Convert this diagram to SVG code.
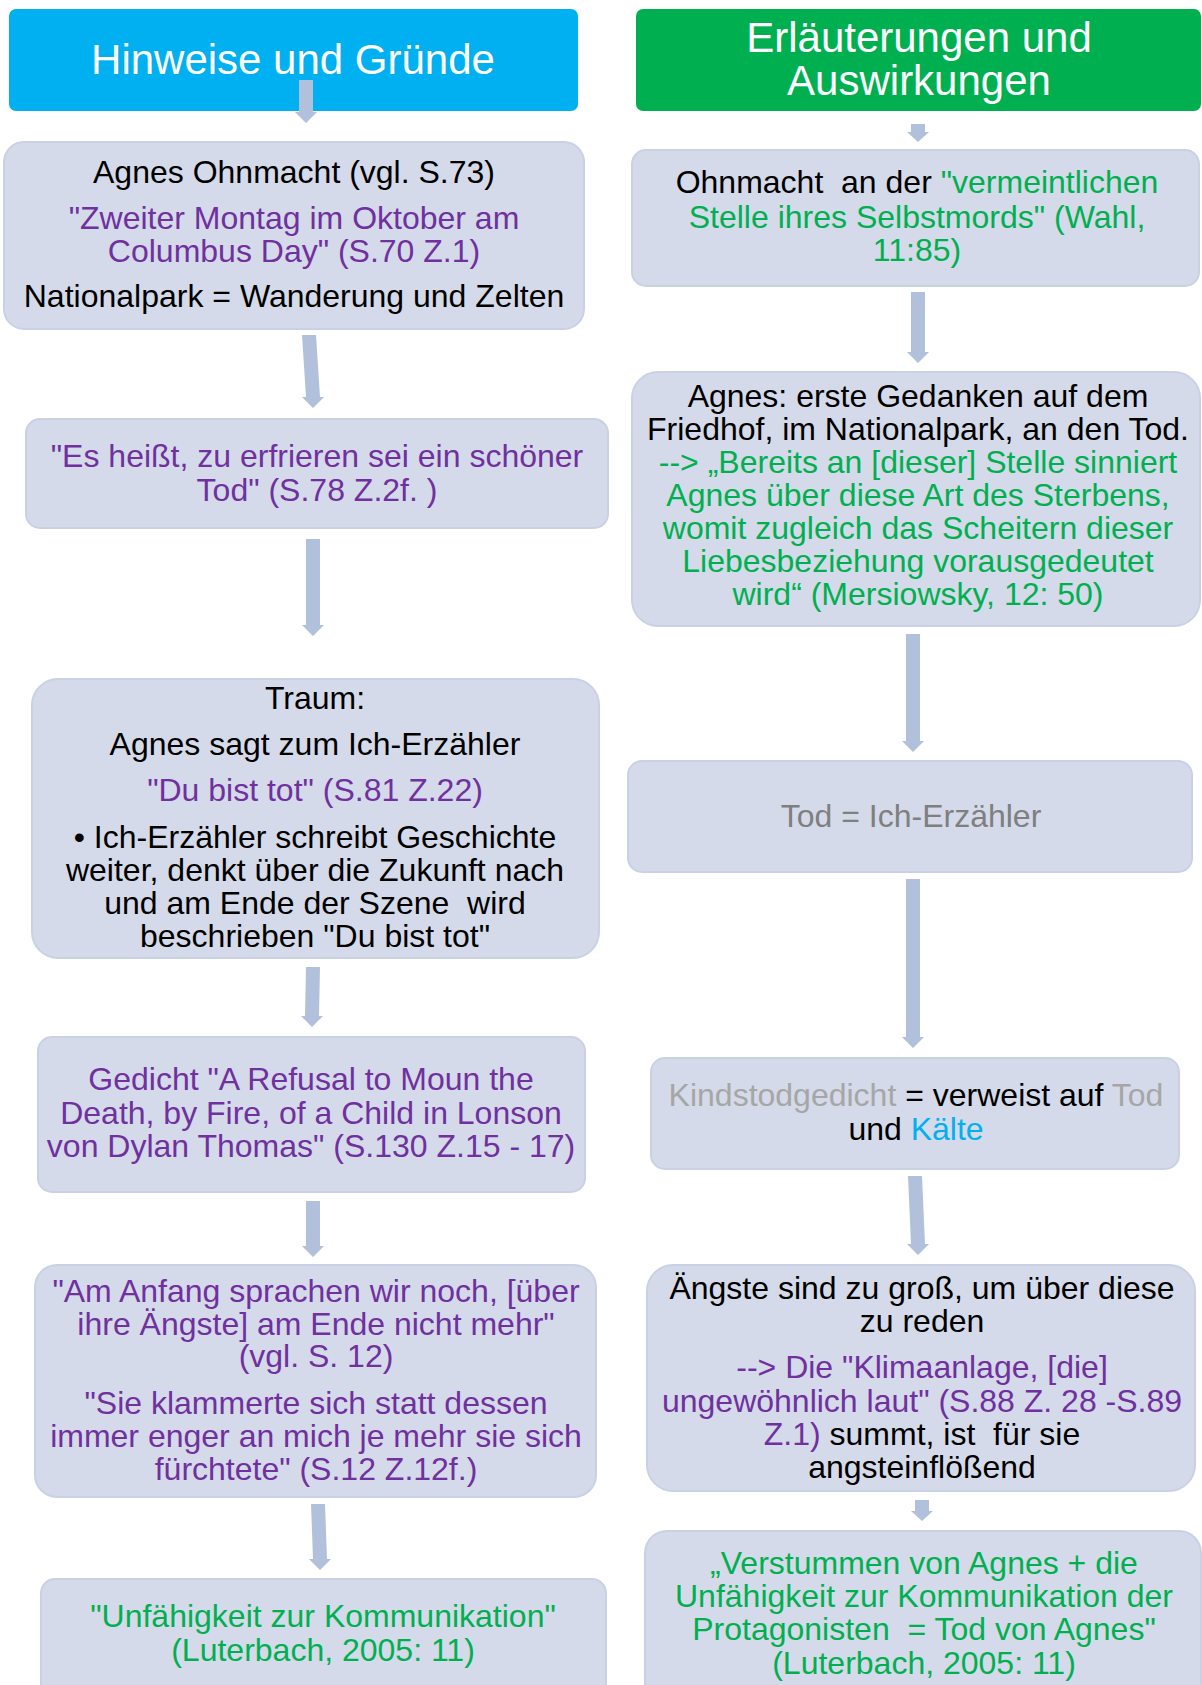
<svg xmlns="http://www.w3.org/2000/svg" width="1202" height="1685" viewBox="0 0 1202 1685">
<style>
text { font-family: "Liberation Sans", Arial, sans-serif; white-space: pre; text-anchor: middle; }
.hd { font-size: 42px; fill: #FFFFFF; }
.t { font-size: 32px; fill: #000000; }
.node { fill: #D4DAE9; stroke: #CAD1E4; stroke-width: 2; }
.arr { fill: #B2C1DB; }
.pu { fill: #7030A0; }
.gr { fill: #00B050; }
.g1 { fill: #7F7F7F; }
.g2 { fill: #A6A6A6; }
.bl { fill: #00B0F0; }
.k { fill: #000000; }
</style>
<rect width="1202" height="1685" fill="#FFFFFF"/>

<g id="header-left">
<rect x="9" y="9" width="569" height="102" rx="7" fill="#00B0F0"/>
<text class="hd" x="293" y="74">Hinweise und Gründe</text>
</g>
<g id="header-right">
<rect x="636" y="9" width="565" height="102" rx="7" fill="#00B050"/>
<text class="hd" x="919" y="52">Erläuterungen und</text>
<text class="hd" x="919" y="95">Auswirkungen</text>
</g>

<g id="connectors">
<polygon class="arr" points="299,80 313,80 313,112 317,112 306,123 295,112 299,112"/>
<polygon class="arr" points="302,335 316,335 320,397 324,397 313,408 302,397 306,397"/>
<polygon class="arr" points="306,539 320,539 320,625 324,625 313,636 302,625 306,625"/>
<polygon class="arr" points="306,967 320,967 319,1016 323,1016 312,1027 301,1016 305,1016"/>
<polygon class="arr" points="306,1201 320,1201 320,1246 324,1246 313,1257 302,1246 306,1246"/>
<polygon class="arr" points="311,1504 325,1504 327,1559 331,1559 320,1570 309,1559 313,1559"/>
<polygon class="arr" points="911,124 925,124 925,132 929,132 918,142 907,132 911,132"/>
<polygon class="arr" points="911,292 925,292 925,352 929,352 918,363 907,352 911,352"/>
<polygon class="arr" points="906,634 920,634 920,741 924,741 913,752 902,741 906,741"/>
<polygon class="arr" points="906,879 920,879 920,1037 924,1037 913,1048 902,1037 906,1037"/>
<polygon class="arr" points="908,1176 922,1176 925,1244 929,1244 918,1255 907,1244 911,1244"/>
<polygon class="arr" points="915,1500 929,1500 929,1511 933,1511 922,1521 911,1511 915,1511"/>
</g>

<g id="node-l1">
<rect class="node" x="4" y="142" width="580" height="187" rx="20"/>
<text class="t" x="294" y="183">Agnes Ohnmacht (vgl. S.73)</text>
<text class="t pu" x="294" y="229">"Zweiter Montag im Oktober am</text>
<text class="t pu" x="294" y="262">Columbus Day" (S.70 Z.1)</text>
<text class="t" x="294" y="307">Nationalpark = Wanderung und Zelten</text>
</g>
<g id="node-l2">
<rect class="node" x="26" y="419" width="582" height="109" rx="14"/>
<text class="t pu" x="317" y="467">"Es heißt, zu erfrieren sei ein schöner</text>
<text class="t pu" x="317" y="501">Tod" (S.78 Z.2f. )</text>
</g>
<g id="node-l3">
<rect class="node" x="32" y="679" width="567" height="279" rx="26"/>
<text class="t" x="315" y="709">Traum:</text>
<text class="t" x="315" y="755">Agnes sagt zum Ich-Erzähler</text>
<text class="t pu" x="315" y="801">"Du bist tot" (S.81 Z.22)</text>
<text class="t" x="315" y="848">• Ich-Erzähler schreibt Geschichte</text>
<text class="t" x="315" y="881">weiter, denkt über die Zukunft nach</text>
<text class="t" x="315" y="914">und am Ende der Szene  wird</text>
<text class="t" x="315" y="947">beschrieben "Du bist tot"</text>
</g>
<g id="node-l4">
<rect class="node" x="38" y="1037" width="547" height="155" rx="14"/>
<text class="t pu" x="311" y="1090">Gedicht "A Refusal to Moun the</text>
<text class="t pu" x="311" y="1124">Death, by Fire, of a Child in Lonson</text>
<text class="t pu" x="311" y="1157">von Dylan Thomas" (S.130 Z.15 - 17)</text>
</g>
<g id="node-l5">
<rect class="node" x="35" y="1265" width="561" height="232" rx="22"/>
<text class="t pu" x="316" y="1302">"Am Anfang sprachen wir noch, [über</text>
<text class="t pu" x="316" y="1335">ihre Ängste] am Ende nicht mehr"</text>
<text class="t pu" x="316" y="1367">(vgl. S. 12)</text>
<text class="t pu" x="316" y="1414">"Sie klammerte sich statt dessen</text>
<text class="t pu" x="316" y="1447">immer enger an mich je mehr sie sich</text>
<text class="t pu" x="316" y="1480">fürchtete" (S.12 Z.12f.)</text>
</g>
<g id="node-l6">
<rect class="node" x="41" y="1579" width="565" height="140" rx="14"/>
<text class="t gr" x="323" y="1627">"Unfähigkeit zur Kommunikation"</text>
<text class="t gr" x="323" y="1661">(Luterbach, 2005: 11)</text>
</g>

<g id="node-r1">
<rect class="node" x="632" y="150" width="567" height="136" rx="14"/>
<text class="t" x="917" y="193">Ohnmacht  an der <tspan class="gr">"vermeintlichen</tspan></text>
<text class="t gr" x="917" y="228">Stelle ihres Selbstmords" (Wahl,</text>
<text class="t gr" x="917" y="261">11:85)</text>
</g>
<g id="node-r2">
<rect class="node" x="632" y="372" width="568" height="254" rx="26"/>
<text class="t" x="918" y="407">Agnes: erste Gedanken auf dem</text>
<text class="t" x="918" y="440">Friedhof, im Nationalpark, an den Tod.</text>
<text class="t gr" x="918" y="473">--&gt; „Bereits an [dieser] Stelle sinniert</text>
<text class="t gr" x="918" y="506">Agnes über diese Art des Sterbens,</text>
<text class="t gr" x="918" y="539">womit zugleich das Scheitern dieser</text>
<text class="t gr" x="918" y="572">Liebesbeziehung vorausgedeutet</text>
<text class="t gr" x="918" y="605">wird“ (Mersiowsky, 12: 50)</text>
</g>
<g id="node-r3">
<rect class="node" x="628" y="761" width="564" height="111" rx="14"/>
<text class="t g1" x="911" y="827">Tod = Ich-Erzähler</text>
</g>
<g id="node-r4">
<rect class="node" x="651" y="1058" width="528" height="111" rx="14"/>
<text class="t" x="916" y="1106"><tspan class="g2">Kindstodgedicht</tspan> = verweist auf <tspan class="g2">Tod</tspan></text>
<text class="t" x="916" y="1140">und <tspan class="bl">Kälte</tspan></text>
</g>
<g id="node-r5">
<rect class="node" x="647" y="1265" width="548" height="226" rx="26"/>
<text class="t" x="922" y="1299">Ängste sind zu groß, um über diese</text>
<text class="t" x="922" y="1332">zu reden</text>
<text class="t pu" x="922" y="1378">--&gt; Die "Klimaanlage, [die]</text>
<text class="t pu" x="922" y="1412">ungewöhnlich laut" (S.88 Z. 28 -S.89</text>
<text class="t" x="922" y="1445"><tspan class="pu">Z.1)</tspan> summt, ist  für sie</text>
<text class="t" x="922" y="1478">angsteinflößend</text>
</g>
<g id="node-r6">
<rect class="node" x="645" y="1531" width="556" height="190" rx="22"/>
<text class="t gr" x="924" y="1574">„Verstummen von Agnes + die</text>
<text class="t gr" x="924" y="1607">Unfähigkeit zur Kommunikation der</text>
<text class="t gr" x="924" y="1640">Protagonisten  = Tod von Agnes"</text>
<text class="t gr" x="924" y="1674">(Luterbach, 2005: 11)</text>
</g>
</svg>
